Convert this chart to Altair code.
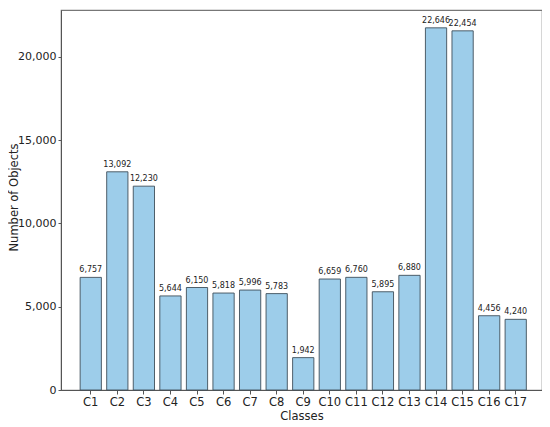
import altair as alt
import pandas as pd

classes = [f"C{i}" for i in range(1, 18)]
counts = [6757, 13092, 12230, 5644, 6150, 5818, 5996, 5783, 1942,
          6659, 6760, 5895, 6880, 22646, 22454, 4456, 4240]
# bar heights as drawn in the picture (C14/C15 are drawn lower than their labels)
heights = [6757, 13092, 12230, 5644, 6150, 5818, 5996, 5783, 1942,
           6659, 6760, 5895, 6880, 21730, 21550, 4456, 4240]
y_ticks = [0, 5000, 10000, 15000, 20000]

df = pd.DataFrame({
    "cls": classes,
    "height": heights,
    "label": [f"{c:,}" for c in counts],
})

x = alt.X("cls:N", sort=classes, title="Classes",
          scale=alt.Scale(paddingInner=0.2, paddingOuter=0.655, align=0.55),
          axis=alt.Axis(labelAngle=0, labelFontSize=11.5, titleFontSize=11.5,
                        titleFontWeight="normal", labelColor="#222", titleColor="#222",
                        domainColor="#555", tickColor="#555", tickSize=4,
                        labelPadding=2, titlePadding=3,
                        labelFont="DejaVu Sans", titleFont="DejaVu Sans"))
y = alt.Y("height:Q", title="Number of Objects",
          scale=alt.Scale(domain=[0, 22800], nice=False),
          axis=alt.Axis(values=y_ticks, format=",d",
                        grid=False, labelFontSize=11, titleFontSize=11.5,
                        titleFontWeight="normal", labelColor="#222", titleColor="#222",
                        domainColor="#555", tickColor="#555", tickSize=3,
                        labelPadding=2, titleX=-47, titleY=187,
                        titleBaseline="middle", titleAlign="center", titleAngle=270,
                        labelFont="DejaVu Sans", titleFont="DejaVu Sans"))

bars = alt.Chart(df).mark_bar(color="#9dcdea", stroke="#3f4f5a", strokeWidth=0.9).encode(x=x, y=y)
text = alt.Chart(df).mark_text(dy=-7, fontSize=8, font="DejaVu Sans", color="#222").encode(
    x=alt.X("cls:N", sort=classes), y="height:Q", text="label:N")

chart = (bars + text).properties(
    width=481, height=380,
    autosize=alt.AutoSizeParams(type="none"),
    padding={"left": 53, "top": 2, "right": 0, "bottom": 36},
).configure_view(stroke="#777", strokeWidth=1.2)

chart.save("out.html", embed_options={"renderer": "svg", "actions": False})
